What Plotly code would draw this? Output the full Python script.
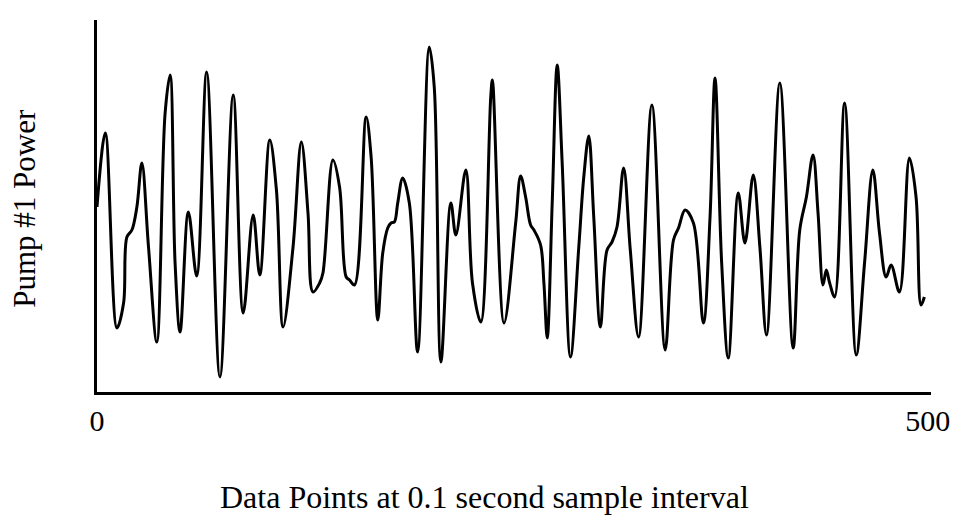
import plotly.graph_objects as go

# Sample index (0.1 s interval) and pump power (arbitrary units)
sample_index = [0, 5, 12, 16, 18, 21, 24, 27, 31, 36, 41, 44, 47, 50, 55, 60, 66, 74, 82, 88,
                94, 98, 104, 108, 112, 118, 123, 127, 130, 134, 136, 142, 146, 150, 152, 155,
                162, 165, 169, 172, 175, 177, 179, 181, 184, 188, 193, 200, 203, 207, 213, 216,
                222, 226, 231, 237, 238, 245, 252, 255, 258, 261, 263, 267, 269, 271, 274, 277,
                280, 285, 290, 293, 296, 299, 303, 307, 310, 313, 317, 321, 326, 334, 342, 347,
                350, 354, 359, 365, 369, 372, 376, 380, 386, 390, 395, 399, 403, 411, 419, 423,
                427, 431, 434, 437, 439, 441, 444, 450, 457, 462, 467, 471, 475, 478, 483, 489,
                493, 496, 498]
pump_power = [185, 259, 64, 89, 155, 162, 185, 229, 145, 50, 279, 317, 129, 60, 180, 116, 320, 15,
              297, 79, 177, 117, 252, 202, 65, 145, 250, 179, 100, 109, 119, 232, 205, 115, 112,
              107, 275, 235, 72, 139, 164, 169, 170, 189, 214, 189, 40, 345, 305, 30, 189, 157,
              222, 109, 70, 295, 312, 69, 169, 216, 195, 167, 162, 147, 109, 54, 189, 327, 229,
              35, 145, 215, 256, 175, 65, 142, 150, 165, 224, 142, 55, 287, 42, 152, 164, 182,
              169, 69, 175, 314, 129, 34, 199, 149, 217, 145, 57, 309, 44, 162, 195, 237, 179,
              107, 122, 109, 95, 289, 37, 129, 222, 159, 115, 127, 100, 234, 195, 87, 95]

x_ticks = [0, 500]
x_tick_labels = ["0", "500"]
x_title = "Data Points at 0.1 second sample interval"
y_title = "Pump #1 Power"

FONT = "Liberation Serif, Times New Roman, serif"

fig = go.Figure()
fig.add_trace(go.Scatter(
    x=sample_index, y=pump_power, mode="lines",
    line=dict(color="black", width=3, shape="spline", smoothing=1.0),
    hoverinfo="skip", showlegend=False,
))

fig.update_layout(
    width=954, height=512,
    margin=dict(l=89, r=22, t=12, b=128),
    paper_bgcolor="white", plot_bgcolor="white",
    font=dict(family=FONT, size=31, color="black"),
    xaxis=dict(
        range=[0, 502], showgrid=False, zeroline=False,
        showline=True, linecolor="black", linewidth=3,
        tickmode="array", tickvals=x_ticks, ticktext=x_tick_labels,
        ticks="", ticklabelstandoff=0,
        tickfont=dict(family=FONT, size=30, color="black"),
    ),
    yaxis=dict(
        range=[0, 372], showgrid=False, zeroline=False,
        showline=True, linecolor="black", linewidth=3,
        showticklabels=False, ticks="",
    ),
    annotations=[
        dict(text=x_title, xref="paper", yref="paper", x=0.465, y=-0.282,
             xanchor="center", yanchor="middle", showarrow=False,
             font=dict(family=FONT, size=32, color="black")),
        dict(text=y_title, xref="paper", yref="paper", x=-0.0878, y=0.4946,
             xanchor="center", yanchor="middle", textangle=-90, showarrow=False,
             font=dict(family=FONT, size=31, color="black")),
    ],
)

fig.write_html("out.html")
